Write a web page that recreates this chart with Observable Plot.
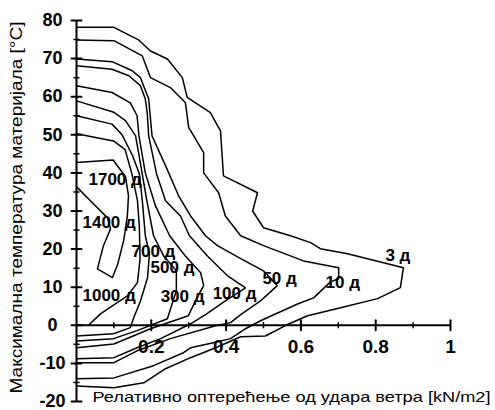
<!DOCTYPE html>
<html>
<head>
<meta charset="utf-8">
<script src="https://cdn.jsdelivr.net/npm/d3@7"></script>
<script src="https://cdn.jsdelivr.net/npm/@observablehq/plot@0.6"></script>
<style>
  body { margin: 0; background: #fff; }
  svg { display: block; }
</style>
</head>
<body>
<div id="chart"></div>
<script>
// Isolines of the number of days, wind load (kN/m2) vs. maximum material temperature (°C)
const days = [3, 10, 50, 100, 300, 500, 700, 1000, 1400, 1700];

const iso3 = [[0,78.2],[0.1,78.2],[0.166,74.9],[0.198,72.0],[0.243,69.9],[0.283,65.0],[0.296,59.8],[0.358,55.8],[0.377,52.4],[0.385,51.1],[0.393,39.2],[0.484,34.8],[0.471,30.0],[0.5,25.6],[0.572,23.5],[0.626,21.7],[0.652,20.1],[0.725,18.8],[0.874,15.1],[0.866,9.9],[0.805,7.0],[0.706,4.6],[0.618,2.5],[0.56,0],[0.505,-2.8],[0.439,-3.0],[0.372,-5.9],[0.305,-8.5],[0.238,-11.4],[0.18,-15.1],[0.1,-16.4],[0,-15.9]];
const iso10 = [[0,74.9],[0.1,74.7],[0.176,70.7],[0.198,65.0],[0.251,62.4],[0.291,58.5],[0.3,51.9],[0.305,51.1],[0.34,45.3],[0.34,40.0],[0.38,34.8],[0.398,28.7],[0.439,23.5],[0.5,20.9],[0.607,16.9],[0.701,15.1],[0.701,12.2],[0.679,11.4],[0.634,7.2],[0.591,5.6],[0.492,1.2],[0.452,-0.9],[0.412,-3.5],[0.366,-4.6],[0.305,-5.9],[0.286,-7.2],[0.206,-10.6],[0.1,-13.8],[0,-14.0]];
const iso50 = [[0,69.9],[0.095,69.2],[0.149,66.8],[0.171,65.0],[0.193,59.4],[0.202,49.7],[0.238,41.9],[0.273,34.0],[0.305,28.7],[0.345,23.5],[0.377,20.9],[0.439,17.5],[0.5,14.3],[0.537,10.4],[0.492,6.4],[0.439,2.8],[0.412,0.7],[0.372,-0.1],[0.251,-3.5],[0.162,-6.7],[0.1,-9.8],[0,-9.8]];
const iso100 = [[0,68.1],[0.095,67.2],[0.14,65.5],[0.171,62.9],[0.184,59.4],[0.189,55.9],[0.193,49.7],[0.214,39.8],[0.238,32.7],[0.278,28.7],[0.302,23.5],[0.35,18.2],[0.404,13.0],[0.452,9.8],[0.398,6.4],[0.345,2.8],[0.305,0.4],[0.225,-3.5],[0.162,-5.9],[0.1,-8.5],[0,-8.8]];
const iso300 = [[0,62.9],[0.095,61.1],[0.144,58.4],[0.162,55.0],[0.167,49.7],[0.184,40.0],[0.211,31.4],[0.249,23.5],[0.291,18.2],[0.332,13.8],[0.34,10.4],[0.318,6.4],[0.299,2.5],[0.198,-0.9],[0.1,-4.9],[0,-5.9]];
const iso500 = [[0,58.9],[0.1,55.9],[0.131,53.7],[0.158,49.7],[0.172,41.9],[0.188,32.7],[0.206,23.5],[0.233,18.2],[0.267,14.3],[0.267,9.1],[0.243,1.7],[0.162,-1.4],[0.099,-3.5],[0,-4.1]];
const iso700 = [[0,55.0],[0.095,52.8],[0.122,50.0],[0.15,44.5],[0.168,39.8],[0.176,32.7],[0.184,23.5],[0.195,18.8],[0.19,12.5],[0.171,6.4],[0.152,1.7],[0.144,-0.6],[0.099,-2.2],[0,-2.8]];
const iso1000 = [[0,50.3],[0.099,48.4],[0.13,46.1],[0.148,39.8],[0.163,32.7],[0.168,26.1],[0.17,17.5],[0.163,11.2],[0.136,7.7],[0.064,3.0],[0.032,0]];
const iso1400 = [[0,36.4],[0.037,32.7],[0.083,28.2],[0.091,25.3],[0.072,20.9],[0.056,14.8],[0.096,12.5],[0.11,16.0],[0.126,22.2],[0.131,25.3]];
const iso1700 = [[0,42.7],[0.098,43.4],[0.131,39.0],[0.139,34.0],[0.136,28.7],[0.131,25.3]];

const isolines = [iso3, iso10, iso50, iso100, iso300, iso500, iso700, iso1000, iso1400, iso1700];

// where each "N д" label sits (left edge, vertical middle)
const labelX = [0.826, 0.666, 0.497, 0.364, 0.225, 0.198, 0.147, 0.016, 0.016, 0.032];
const labelY = [18.2, 11.2, 12.2, 8.3, 7.5, 15.1, 19.3, 7.7, 26.9, 38.2];

const yTicks = [80, 70, 60, 50, 40, 30, 20, 10, 0, -10, -20];
const yMinor = [75, 65, 55, 45, 35, 25, 15, 5, -5, -15];
const xTicks = [0.2, 0.4, 0.6, 0.8, 1];
const xMinor = [0.1, 0.3, 0.5, 0.7, 0.9];
const xTickLabels = ["0.2", "0.4", "0.6", "0.8", "1"];

const xTitle = "Релативно оптерећење од удара ветра [kN/m2]";
const yTitle = "Максимална температура материјала [°C]";

const points = isolines.flatMap((pts, i) => pts.map(([x, y]) => ({days: days[i], x, y})));
const labels = days.map((d, i) => ({text: `${d} д`, x: labelX[i], y: labelY[i]}));

// straight tick stroke, centred on the axis
const tickLine = {draw(ctx, l) { ctx.moveTo(0, 0); ctx.lineTo(0, -l); }};
const font = "'Liberation Sans', Arial, Helvetica, sans-serif";

const chart = Plot.plot({
  width: 495,
  height: 410,
  marginLeft: 76,
  marginRight: 45,
  marginTop: 20,
  marginBottom: 9,
  x: {domain: [0, 1], axis: null},
  y: {domain: [-20, 80], axis: null},
  style: {fontFamily: font, background: "white", color: "black"},
  marks: [
    Plot.line(points, {x: "x", y: "y", z: "days", stroke: "black", strokeWidth: 1.5, strokeLinejoin: "miter"}),
    Plot.ruleX([0], {y1: -20, y2: 80, stroke: "black", strokeWidth: 2}),
    Plot.ruleY([0], {x1: 0, x2: 1, stroke: "black", strokeWidth: 2}),
    Plot.vector(yTicks, {x: 0, y: d => d, length: 10, rotate: 90, anchor: "middle", shape: tickLine, stroke: "black", strokeWidth: 2}),
    Plot.vector(yMinor, {x: 0, y: d => d, length: 5, rotate: 90, anchor: "middle", shape: tickLine, stroke: "black", strokeWidth: 1.5}),
    Plot.vector(xTicks, {x: d => d, y: 0, length: 10, anchor: "middle", shape: tickLine, stroke: "black", strokeWidth: 2}),
    Plot.vector(xMinor, {x: d => d, y: 0, length: 5, anchor: "middle", shape: tickLine, stroke: "black", strokeWidth: 1.5}),
    Plot.text(yTicks, {x: 0, y: d => d, text: d => String(d), dx: -24, textAnchor: "middle", fontSize: 18, fontWeight: "bold", fill: "black"}),
    Plot.text(xTicks, {x: d => d, y: 0, text: (d, i) => xTickLabels[i], dy: 22, textAnchor: "middle", fontSize: 19, fontWeight: "bold", fill: "black"}),
    Plot.text(labels, {x: "x", y: "y", text: "text", textAnchor: "start", fontSize: 17, fontWeight: "bold", fill: "black"}),
    Plot.text([yTitle], {text: d => d, frameAnchor: "bottom-left", dx: -55, dy: -8, textAnchor: "start", rotate: -90, fontSize: 17, fill: "black"}),
    Plot.text([xTitle], {text: d => d, frameAnchor: "bottom-left", dx: 16, dy: 0, textAnchor: "start", fontSize: 15, fill: "black"})
  ]
});

document.getElementById("chart").append(chart);

// stretch the two axis titles to their full run
d3.select(chart).selectAll("text").each(function () {
  const t = this.textContent;
  if (t === yTitle) d3.select(this).attr("textLength", 372).attr("lengthAdjust", "spacingAndGlyphs");
  if (t === xTitle) d3.select(this).attr("textLength", 398).attr("lengthAdjust", "spacingAndGlyphs");
});
</script>
</body>
</html>
